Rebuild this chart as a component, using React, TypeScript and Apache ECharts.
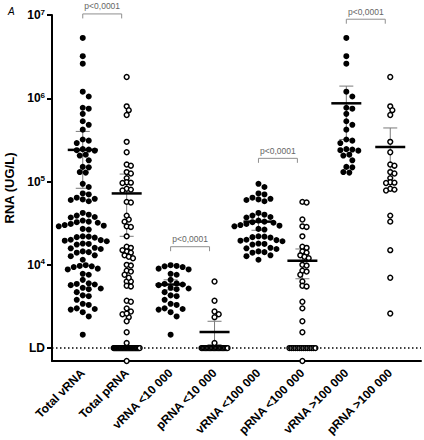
import React, { useEffect, useRef } from 'react';
import * as echarts from 'echarts';

const FONT = '"Liberation Sans", Arial, sans-serif';

const categories = [
  'Total vRNA', 'Total pRNA', 'vRNA <10 000', 'pRNA <10 000',
  'vRNA <100 000', 'pRNA <100 000', 'vRNA >100 000', 'pRNA >100 000',
];

// detection limit and value drawn on the axis floor
const LD = 1000;
const BELOW_LD = 700;
const Y_MAX = 1e7;

const yTickValues = [1e3, 1e4, 1e5, 1e6, 1e7];
const yTickLabels = ['LD', '10^4', '10^5', '10^6', '10^7'];

// vRNA by group (filled dots)
const vLow = [9900, 9700, 9600, 9400, 9000, 8800, 7800, 7600, 6600, 6000, 5900, 5800, 5700, 5300, 5200, 5100,
  4700, 4300, 4200, 3800, 3400, 3300, 3000, 2950, 2900, 2700, 2400, 1450];
const vMid = [94000, 86000, 72000, 70000, 64000, 62000, 61000, 60000, 58000, 42000, 40000, 39000, 37500, 37000,
  34000, 33000, 32500, 32000, 31000, 30000, 29500, 29000, 27000, 26500, 22000, 21800, 21500, 21200, 20000,
  19800, 19500, 19200, 18000, 17800, 17500, 16000, 15800, 15500, 14500, 14200, 14000, 13000, 12700, 11500];
const vHigh = [5300000, 3200000, 2600000, 1200000, 1050000, 770000, 750000, 650000, 530000, 480000, 420000,
  320000, 310000, 290000, 245000, 242000, 238000, 235000, 210000, 205000, 180000, 150000, 148000, 130000, 128000];

// pRNA by group (open circles)
const pLow = [6300, 3700, 2750, 2550, 2350, 1150,
  LD, LD, LD, LD, LD, LD, LD, LD, LD, LD, LD, LD, LD, LD, LD, LD, LD, LD, LD, LD, LD];
const pMid = [57000, 56000, 35000, 29000, 28500, 22000, 16500, 16000, 14500, 14000, 13000, 12500, 12000, 10000,
  9800, 8500, 8300, 7600, 6300, 5600, 5500, 3600, 3000, 2100, 1550,
  LD, LD, LD, LD, LD, LD, LD, LD, LD, LD, LD, LD, LD, LD, BELOW_LD];
const pHigh = [1800000, 800000, 720000, 630000, 300000, 225000, 160000, 155000, 130000, 125000, 110000, 98000,
  97000, 96000, 82000, 80000, 78000, 39000, 33000, 15000, 7000, 2600];

const totalV = [...vLow, ...vMid, ...vHigh];
const totalP = [...pLow, ...pMid, ...pHigh];

const groups = [totalV, totalP, vLow, pLow, vMid, pMid, vHigh, pHigh];
const filledGroup = [true, false, true, false, true, false, true, false];

// mean and SEM
const meanValues = [240000, 72000, 5800, 1560, 33000, 11200, 870000, 260000];
const semLow = [83000, 22000, 5000, 1100, 26000, 6800, 320000, 80000];
const semHigh = [400000, 123000, 6600, 2100, 40000, 15500, 1400000, 440000];

// significance brackets
const bracketStart = [1, 3, 5, 7];
const bracketLevel = [10300000, 16500, 190000, 8900000];
const bracketLabels = ['p<0,0001', 'p<0,0001', 'p<0,0001', 'p<0,0001'];

// layout constants
const GRID = { left: 52, right: 3, top: 15, bottom: 79 };
const W = 424, H = 440;
const X_MIN = 0.3, X_MAX = 8.7;
const PLOT_W = W - GRID.left - GRID.right;
const PLOT_H = H - GRID.top - GRID.bottom;
const PX_PER_UNIT = PLOT_W / (X_MAX - X_MIN);
const PX_PER_DECADE = PLOT_H / (Math.log10(Y_MAX) - Math.log10(BELOW_LD));
const BAND_HALF = 13;

function swarm(values: number[], diam: number): number[] {
  const offs = new Array(values.length).fill(0);
  const placed: { x: number; y: number }[] = [];
  const idx = values.map((_, i) => i);
  const ld = idx.filter((i) => values[i] === LD);
  ld.forEach((i, k) => {
    const x = ld.length > 1 ? -BAND_HALF + (2 * BAND_HALF * k) / (ld.length - 1) : 0;
    offs[i] = x;
    placed.push({ x, y: Math.log10(LD) * PX_PER_DECADE });
  });
  const rest = idx.filter((i) => values[i] !== LD).sort((a, b) => values[b] - values[a]);
  const step = diam / 2;
  for (const i of rest) {
    const y = Math.log10(values[i]) * PX_PER_DECADE;
    let x = 0;
    for (let k = 0; k < 60; k++) {
      const c = k === 0 ? 0 : (k % 2 === 1 ? 1 : -1) * Math.ceil(k / 2) * step;
      if (placed.every((p) => (p.x - c) ** 2 + (p.y - y) ** 2 >= diam * diam * 0.95)) { x = c; break; }
    }
    offs[i] = x;
    placed.push({ x, y });
  }
  return offs;
}

function buildPoints(filled: boolean) {
  const out: number[][] = [];
  groups.forEach((vals, g) => {
    if (filledGroup[g] !== filled) return;
    const offs = swarm(vals, filled ? 6 : 4.2);
    vals.forEach((v, i) => out.push([g + 1 + offs[i] / PX_PER_UNIT, v]));
  });
  return out;
}

export default function App() {
  const ref = useRef<HTMLDivElement>(null);
  useEffect(() => {
    const chart = echarts.init(ref.current!, null, { renderer: 'svg' });
    const errData = categories.map((_, i) => [i + 1, meanValues[i], semLow[i], semHigh[i]]);
    const bracketData = bracketStart.map((s, i) => [s, bracketLevel[i]]);
    const option: any = {
      animation: false,
      backgroundColor: '#fff',
      title: {
        text: 'A', left: 3, top: 1,
        textStyle: { fontSize: 10, fontStyle: 'italic', fontWeight: 'normal', color: '#000', fontFamily: FONT },
      },
      grid: { ...GRID, containLabel: false, outerBoundsMode: 'none' },
      xAxis: {
        type: 'value', min: X_MIN, max: X_MAX,
        axisLine: { show: true, onZero: false, lineStyle: { color: '#000', width: 2 } },
        axisTick: { show: false },
        splitLine: { show: false },
        axisLabel: {
          customValues: categories.map((_, i) => i + 1),
          formatter: (v: number) => categories[Math.round(v) - 1] ?? '',
          rotate: 45, margin: 10, fontSize: 12, fontWeight: 'bold', color: '#000', fontFamily: FONT,
        },
      },
      yAxis: {
        type: 'log', logBase: 10, min: BELOW_LD, max: Y_MAX,
        name: 'RNA (UG/L)', nameLocation: 'middle', nameGap: 31, nameRotate: 90,
        nameTextStyle: { fontSize: 13, fontWeight: 'bold', color: '#000', fontFamily: FONT },
        axisLine: { show: true, lineStyle: { color: '#000', width: 2 } },
        axisTick: { show: true, length: 5, customValues: yTickValues, lineStyle: { color: '#000', width: 2 } },
        splitLine: { show: false },
        minorTick: { show: false },
        axisLabel: {
          customValues: yTickValues,
          margin: 7,
          formatter: (v: number) => {
            const k = yTickValues.findIndex((t) => Math.abs(Math.log10(t) - Math.log10(v)) < 0.01);
            const lab = k >= 0 ? yTickLabels[k] : '';
            if (lab.includes('^')) {
              const [b, e] = lab.split('^');
              return `{b|${b}}{s|${e}}`;
            }
            return `{b|${lab}}`;
          },
          rich: {
            b: { fontSize: 12, fontWeight: 'bold', color: '#000', fontFamily: FONT, lineHeight: 14 },
            s: { fontSize: 8, fontWeight: 'bold', color: '#000', fontFamily: FONT, lineHeight: 9, verticalAlign: 'top' },
          },
        },
      },
      series: [
        {
          type: 'custom', z: 1, silent: true, clip: false,
          encode: { x: 0, y: [1, 2, 3] },
          data: errData,
          renderItem: (params: any, api: any) => {
            const x = api.value(0);
            const hi = api.coord([x, api.value(3)]);
            const lo = api.coord([x, api.value(2)]);
            const cx = hi[0];
            const style = { stroke: '#7a7a7a', lineWidth: 1, fill: 'none' };
            return {
              type: 'group', children: [
                { type: 'line', shape: { x1: cx, y1: hi[1], x2: cx, y2: lo[1] }, style },
                { type: 'line', shape: { x1: cx - 7, y1: hi[1], x2: cx + 7, y2: hi[1] }, style },
                { type: 'line', shape: { x1: cx - 7, y1: lo[1], x2: cx + 7, y2: lo[1] }, style },
              ],
            };
          },
          markLine: {
            silent: true, symbol: 'none', label: { show: false },
            lineStyle: { color: '#000', type: [1.5, 2.5], width: 1.5 },
            data: [{ yAxis: LD }],
          },
        },
        {
          type: 'scatter', z: 2, silent: true, symbol: 'circle', symbolSize: 6,
          itemStyle: { color: '#000', opacity: 1 },
          data: buildPoints(true),
        },
        {
          type: 'scatter', z: 2, silent: true, symbol: 'circle', symbolSize: 4.8,
          itemStyle: { color: '#fff', borderColor: '#000', borderWidth: 1.5, opacity: 1 },
          data: buildPoints(false),
        },
        {
          type: 'custom', z: 3, silent: true, clip: false,
          encode: { x: 0, y: 1 },
          data: errData,
          renderItem: (params: any, api: any) => {
            const p = api.coord([api.value(0), api.value(1)]);
            return {
              type: 'line',
              shape: { x1: p[0] - 15, y1: p[1], x2: p[0] + 15, y2: p[1] },
              style: { stroke: '#000', lineWidth: 2.5 },
            };
          },
        },
        {
          type: 'custom', z: 3, silent: true, clip: false,
          encode: { x: 0, y: 1 },
          data: bracketData,
          renderItem: (params: any, api: any) => {
            const s = api.value(0);
            const p = api.coord([s, api.value(1)]);
            const x2 = api.coord([s + 1, api.value(1)])[0] - 5;
            return {
              type: 'group', children: [
                {
                  type: 'polyline',
                  shape: { points: [[p[0], p[1] + 4.5], [p[0], p[1]], [x2, p[1]], [x2, p[1] + 4.5]] },
                  style: { stroke: '#8f8f8f', lineWidth: 1, fill: 'none' },
                },
                {
                  type: 'text', x: (p[0] + x2) / 2, y: p[1] - 3,
                  style: {
                    text: bracketLabels[params.dataIndex], fill: '#666', fontSize: 8.5,
                    fontFamily: FONT, align: 'center', verticalAlign: 'bottom',
                  },
                },
              ],
            };
          },
        },
      ],
    };
    chart.setOption(option);
    return () => chart.dispose();
  }, []);
  return <div ref={ref} style={{ position: 'absolute', left: 0, top: 0, width: W, height: H }} />;
}
